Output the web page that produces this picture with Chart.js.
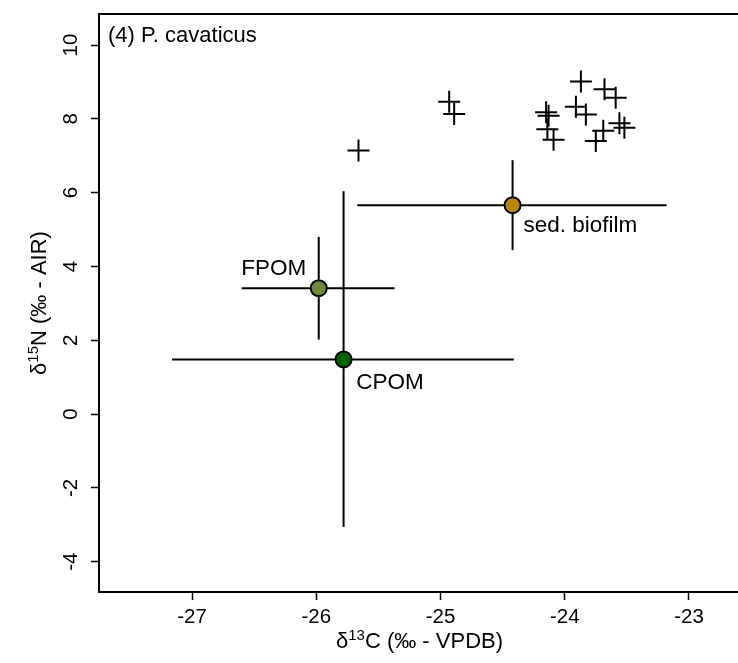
<!DOCTYPE html>
<html>
<head>
<meta charset="utf-8">
<script src="https://cdn.jsdelivr.net/npm/chart.js@4.4.1/dist/chart.umd.min.js"></script>
<style>
html,body{margin:0;padding:0;background:#fff;overflow:hidden;width:738px;height:663px}
#wrap{position:relative;width:760px;height:663px}
canvas{display:block}
</style>
</head>
<body>
<div id="wrap"><canvas id="c" width="760" height="663"></canvas></div>
<script>
// ---- data ----
const panelTitle = '(4) P. cavaticus';
const consumerX = [-24.93, -24.89, -25.66, -23.87, -23.68, -23.59, -24.15, -24.13, -24.14, -24.09,
                   -23.91, -23.83, -23.69, -23.75, -23.56, -23.52];
const consumerY = [8.46, 8.13, 7.14, 9.01, 8.80, 8.57, 8.18, 8.08, 7.72, 7.43,
                   8.33, 8.12, 7.68, 7.40, 7.88, 7.76];
const sourceNames = ['sed. biofilm', 'FPOM', 'CPOM'];
const sourceMeanX = [-24.42, -25.98, -25.78];
const sourceMeanY = [5.66, 3.41, 1.48];
const sourceXLow  = [-25.67, -26.60, -27.16];
const sourceXHigh = [-23.18, -25.37, -24.41];
const sourceYLow  = [4.44, 2.02, -3.06];
const sourceYHigh = [6.88, 4.80, 6.04];
const sourceColors = ['#B8860B', '#6E8B3D', '#006400'];
const xTicks = [-27, -26, -25, -24, -23];
const yTicks = [-4, -2, 0, 2, 4, 6, 8, 10];

const FONT = '"Liberation Sans", Arial, Helvetica, sans-serif';

// ---- datasets ----
const datasets = [];
datasets.push({
  type: 'scatter',
  order: 0,
  data: sourceMeanX.map((x, i) => ({x: x, y: sourceMeanY[i]})),
  pointRadius: 8,
  pointHoverRadius: 8,
  pointBackgroundColor: sourceColors,
  pointBorderColor: '#000',
  pointBorderWidth: 2
});
datasets.push({
  type: 'scatter',
  order: 2,
  data: consumerX.map((x, i) => ({x: x, y: consumerY[i]})),
  pointStyle: 'cross',
  pointRadius: 11,
  pointHoverRadius: 11,
  pointBorderColor: '#000',
  pointBorderWidth: 2
});
sourceMeanX.forEach((mx, i) => {
  datasets.push({
    type: 'line', order: 1,
    data: [{x: sourceXLow[i], y: sourceMeanY[i]}, {x: sourceXHigh[i], y: sourceMeanY[i]}],
    borderColor: '#000', borderWidth: 2, pointRadius: 0, fill: false
  });
  datasets.push({
    type: 'line', order: 1,
    data: [{x: mx, y: sourceYLow[i]}, {x: mx, y: sourceYHigh[i]}],
    borderColor: '#000', borderWidth: 2, pointRadius: 0, fill: false
  });
});

function drawRich(ctx, parts, size) {
  // parts: [{t, sup}] ; returns total width after measuring
  let w = 0;
  parts.forEach(p => {
    ctx.font = (p.sup ? Math.round(size * 0.7) : size) + 'px ' + FONT;
    p.w = ctx.measureText(p.t).width;
    w += p.w;
  });
  return w;
}
function fillRich(ctx, parts, size, x0, y0) {
  let x = x0;
  parts.forEach(p => {
    ctx.font = (p.sup ? Math.round(size * 0.7) : size) + 'px ' + FONT;
    ctx.fillText(p.t, x, p.sup ? y0 - size * 0.38 : y0);
    x += p.w;
  });
}

const textPlugin = {
  id: 'texts',
  afterDraw(chart) {
    const ctx = chart.ctx;
    const a = chart.chartArea;
    const xs = chart.scales.x, ys = chart.scales.y;
    ctx.save();
    // frame
    ctx.strokeStyle = '#000';
    ctx.lineWidth = 2;
    ctx.strokeRect(a.left, a.top, a.right - a.left, a.bottom - a.top);
    ctx.fillStyle = '#000';
    ctx.textBaseline = 'alphabetic';
    // title
    ctx.font = '22px ' + FONT;
    ctx.textAlign = 'left';
    ctx.fillText(panelTitle, a.left + 9, a.top + 27.5);
    // x tick labels
    ctx.font = '20.5px ' + FONT;
    ctx.textAlign = 'center';
    xTicks.forEach(v => ctx.fillText(String(v), xs.getPixelForValue(v), a.bottom + 31));
    // y tick labels (rotated)
    yTicks.forEach(v => {
      ctx.save();
      ctx.translate(a.left - 22, ys.getPixelForValue(v));
      ctx.rotate(-Math.PI / 2);
      ctx.fillText(String(v), 0, 0);
      ctx.restore();
    });
    // source labels
    ctx.font = '22.5px ' + FONT;
    const offsets = [[11, 26.7, 'left'], [-12.5, -13.3, 'right'], [12.7, 30, 'left']];
    sourceNames.forEach((n, i) => {
      const px = xs.getPixelForValue(sourceMeanX[i]);
      const py = ys.getPixelForValue(sourceMeanY[i]);
      ctx.textAlign = offsets[i][2];
      ctx.fillText(n, px + offsets[i][0], py + offsets[i][1]);
    });
    // axis titles
    ctx.textAlign = 'left';
    const xt = [{t: 'δ'}, {t: '13', sup: true}, {t: 'C (‰ - VPDB)'}];
    const wx = drawRich(ctx, xt, 22);
    fillRich(ctx, xt, 22, (a.left + a.right) / 2 - wx / 2, a.bottom + 56);
    const yt = [{t: 'δ'}, {t: '15', sup: true}, {t: 'N (‰ - AIR)'}];
    const wy = drawRich(ctx, yt, 22);
    ctx.save();
    ctx.translate(a.left - 53, (a.top + a.bottom) / 2);
    ctx.rotate(-Math.PI / 2);
    fillRich(ctx, yt, 22, -wy / 2, 0);
    ctx.restore();
    ctx.restore();
  }
};

new Chart(document.getElementById('c'), {
  data: {datasets: datasets},
  options: {
    responsive: false,
    animation: false,
    devicePixelRatio: 1,
    layout: {padding: {top: 14, right: 20, bottom: 0, left: 0}},
    plugins: {legend: {display: false}, tooltip: {enabled: false}},
    scales: {
      x: {
        type: 'linear',
        min: -27.7485, max: -22.5895,
        afterBuildTicks: s => { s.ticks = xTicks.map(v => ({value: v})); },
        afterFit: s => { s.height = 71; },
        ticks: {display: false},
        border: {display: false},
        grid: {display: true, drawOnChartArea: false, drawTicks: true, tickLength: 8, tickWidth: 1.5, tickColor: '#000'}
      },
      y: {
        type: 'linear',
        min: -4.821, max: 10.840,
        afterBuildTicks: s => { s.ticks = yTicks.map(v => ({value: v})); },
        afterFit: s => { s.width = 99; },
        ticks: {display: false},
        border: {display: false},
        grid: {display: true, drawOnChartArea: false, drawTicks: true, tickLength: 8, tickWidth: 1.5, tickColor: '#000'}
      }
    }
  },
  plugins: [textPlugin]
});
</script>
</body>
</html>
